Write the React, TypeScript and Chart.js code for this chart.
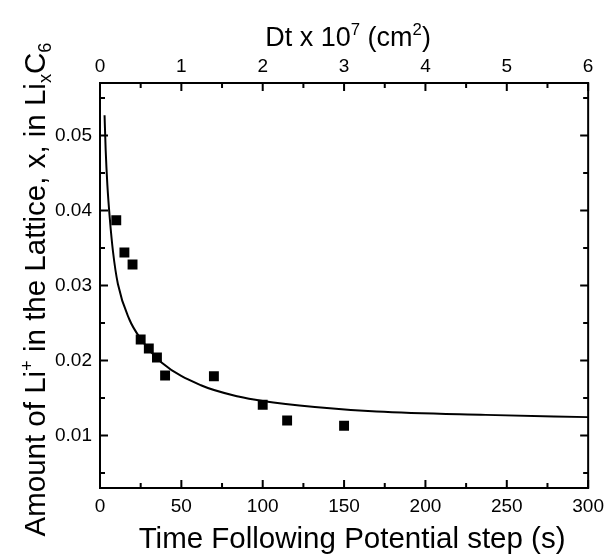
import React, { useEffect, useRef } from "react";
import { Chart, registerables } from "chart.js";
Chart.register(...registerables);

// Measured data (time in s, amount x in LixC6)
const timeS = [10, 15, 20, 25, 30, 35, 40, 70, 100, 115, 150];
const amountX = [0.0387, 0.0344, 0.0328, 0.0228, 0.0216, 0.0204, 0.018, 0.0179, 0.0141, 0.012, 0.0113];

// Fitted curve
const fitTime = [2.8, 3.5, 4.5, 6, 8, 11, 18, 25, 38, 62, 85, 100, 132, 170, 237, 300];
const fitAmount = [0.0527, 0.048, 0.0435, 0.039, 0.0345, 0.0302, 0.0255, 0.0229, 0.0197, 0.0167, 0.0152, 0.0146, 0.0138, 0.0132, 0.01275, 0.01245];

// Axis ticks
const xTicks = [0, 50, 100, 150, 200, 250, 300];
const xMinor = [25, 75, 125, 175, 225, 275];
const topTicks = [0, 1, 2, 3, 4, 5, 6];
const topMinor = [0.5, 1.5, 2.5, 3.5, 4.5, 5.5];
const yTicks = [0.01, 0.02, 0.03, 0.04, 0.05];
const yMinor = [0.005, 0.015, 0.025, 0.035, 0.045, 0.055];

const FONT = "'Liberation Sans', Arial, sans-serif";

type Seg = { t: string; sup?: boolean; sub?: boolean };
const yTitle: Seg[] = [
  { t: "Amount of Li" }, { t: "+", sup: true }, { t: " in the Lattice, x, in Li" },
  { t: "x", sub: true }, { t: "C" }, { t: "6", sub: true },
];
const xTitle: Seg[] = [{ t: "Time Following Potential step (s)" }];
const topTitle: Seg[] = [{ t: "Dt x 10" }, { t: "7", sup: true }, { t: " (cm" }, { t: "2", sup: true }, { t: ")" }];

function drawRich(ctx: CanvasRenderingContext2D, segs: Seg[], size: number) {
  const small = size * 0.62;
  let total = 0;
  const widths = segs.map((s) => {
    ctx.font = `${s.sup || s.sub ? small : size}px ${FONT}`;
    const w = ctx.measureText(s.t).width;
    total += w;
    return w;
  });
  let x = -total / 2;
  ctx.textAlign = "left";
  ctx.textBaseline = "alphabetic";
  segs.forEach((s, i) => {
    ctx.font = `${s.sup || s.sub ? small : size}px ${FONT}`;
    const dy = s.sup ? -size * 0.42 : s.sub ? size * 0.2 : 0;
    ctx.fillText(s.t, x, dy);
    x += widths[i];
  });
}

const framePlugin = {
  id: "frame",
  afterDraw(chart: any) {
    const { ctx, chartArea: a, scales } = chart;
    ctx.save();
    ctx.strokeStyle = "#000";
    ctx.fillStyle = "#000";
    ctx.lineWidth = 2;
    ctx.strokeRect(a.left, a.top, a.right - a.left, a.bottom - a.top);
    const MAJ = 8, MIN = 5;
    ctx.beginPath();
    const vTicks = (vals: number[], len: number) => {
      vals.forEach((v) => {
        const px = scales.x.getPixelForValue(v);
        ctx.moveTo(px, a.bottom); ctx.lineTo(px, a.bottom - len);
      });
    };
    const tTicks = (vals: number[], len: number) => {
      vals.forEach((v) => {
        const px = scales.x2.getPixelForValue(v);
        ctx.moveTo(px, a.top); ctx.lineTo(px, a.top + len);
      });
    };
    const hTicks = (vals: number[], len: number) => {
      vals.forEach((v) => {
        const py = scales.y.getPixelForValue(v);
        ctx.moveTo(a.left, py); ctx.lineTo(a.left + len, py);
        ctx.moveTo(a.right, py); ctx.lineTo(a.right - len, py);
      });
    };
    vTicks(xTicks, MAJ); vTicks(xMinor, MIN);
    tTicks(topTicks, MAJ); tTicks(topMinor, MIN);
    hTicks(yTicks, MAJ); hTicks(yMinor, MIN);
    ctx.stroke();

    const cx = (a.left + a.right) / 2;
    const cy = (a.top + a.bottom) / 2;
    // bottom title
    ctx.save();
    ctx.translate(cx + 8, a.bottom + 60);
    drawRich(ctx, xTitle, 29.5);
    ctx.restore();
    // top title
    ctx.save();
    ctx.translate(cx + 4, a.top - 37);
    drawRich(ctx, topTitle, 27);
    ctx.restore();
    // y title
    ctx.save();
    ctx.translate(a.left - 55, cy + 4);
    ctx.rotate(-Math.PI / 2);
    drawRich(ctx, yTitle, 29.5);
    ctx.restore();
    ctx.restore();
  },
};

export default function App() {
  const ref = useRef<HTMLCanvasElement | null>(null);
  useEffect(() => {
    if (!ref.current) return;
    const tickFont = { family: FONT, size: 19 };
    const chart = new Chart(ref.current, {
      type: "scatter",
      data: {
        datasets: [
          {
            label: "fit",
            data: fitTime.map((t, i) => ({ x: t, y: fitAmount[i] })),
            showLine: true,
            borderColor: "#000",
            borderWidth: 2,
            pointRadius: 0,
            cubicInterpolationMode: "monotone",
            xAxisID: "x",
            yAxisID: "y",
          },
          {
            label: "data",
            data: timeS.map((t, i) => ({ x: t, y: amountX[i] })),
            showLine: false,
            pointStyle: "rect",
            pointRadius: 7,
            backgroundColor: "#000",
            borderColor: "#000",
            borderWidth: 0,
            xAxisID: "x",
            yAxisID: "y",
          },
        ],
      },
      options: {
        responsive: false,
        animation: false,
        layout: { padding: 0 },
        plugins: { legend: { display: false }, tooltip: { enabled: false } },
        scales: {
          x: {
            type: "linear",
            position: "bottom",
            min: 0,
            max: 300,
            grid: { display: false, drawTicks: false },
            border: { display: false },
            ticks: { color: "#000", font: tickFont, padding: 7, maxRotation: 0 },
            afterBuildTicks: (s: any) => { s.ticks = xTicks.map((v) => ({ value: v })); },
            afterFit: (s: any) => { s.height = 67; },
          },
          x2: {
            type: "linear",
            position: "top",
            min: 0,
            max: 6,
            grid: { display: false, drawTicks: false },
            border: { display: false },
            ticks: { color: "#000", font: tickFont, padding: 5, maxRotation: 0 },
            afterBuildTicks: (s: any) => { s.ticks = topTicks.map((v) => ({ value: v })); },
            afterFit: (s: any) => { s.height = 83; },
          },
          y: {
            type: "linear",
            position: "left",
            min: 0.003,
            max: 0.057,
            grid: { display: false, drawTicks: false },
            border: { display: false },
            ticks: { color: "#000", font: tickFont, padding: 8, callback: (v: any) => Number(v).toFixed(2) },
            afterBuildTicks: (s: any) => { s.ticks = yTicks.map((v) => ({ value: v })); },
            afterFit: (s: any) => { s.width = 100; },
          },
          y2: {
            type: "linear",
            position: "right",
            min: 0.003,
            max: 0.057,
            grid: { display: false, drawTicks: false },
            border: { display: false },
            ticks: { display: false },
            afterFit: (s: any) => { s.width = 18; },
          },
        },
      },
      plugins: [framePlugin],
    } as any);
    return () => chart.destroy();
  }, []);
  return (
    <div style={{ position: "fixed", left: 0, top: 0, width: 611, height: 555, background: "#fff" }}>
      <canvas ref={ref} width={611} height={555} style={{ display: "block" }} />
    </div>
  );
}
